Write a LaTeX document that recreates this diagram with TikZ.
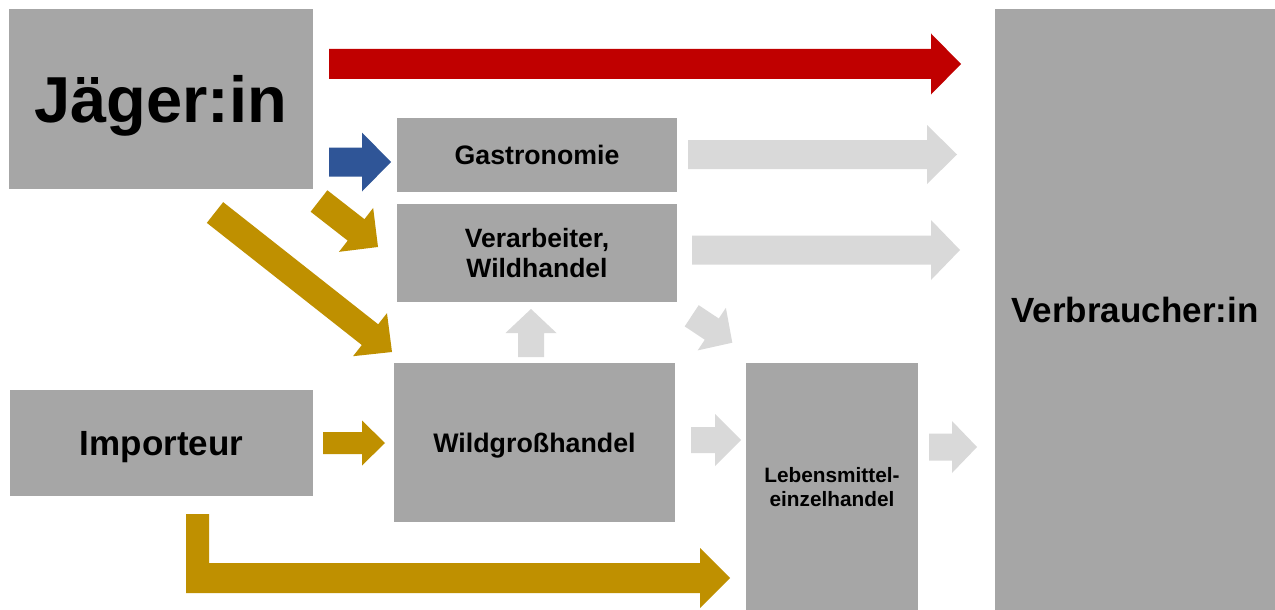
\documentclass[tikz,border=0pt]{standalone}
\usepackage{fontspec}
\setmainfont{Liberation Sans}
\usetikzlibrary{calc}
\definecolor{boxgray}{HTML}{A6A6A6}
\definecolor{lightarr}{HTML}{D9D9D9}
\definecolor{redarr}{HTML}{C00000}
\definecolor{bluearr}{HTML}{2F5597}
\definecolor{goldarr}{HTML}{BF9000}
% #1 style, #2 from, #3 to, #4 half shaft, #5 half head, #6 head length
\newcommand\blockarrow[6]{%
  \coordinate (ba-h) at ($(#3)!#6!(#2)$);
  \fill[#1] ($(#2)!#4!90:(#3)$) -- ($(ba-h)!#4!90:(#3)$) -- ($(ba-h)!#5!90:(#3)$) -- (#3)
    -- ($(ba-h)!#5!-90:(#3)$) -- ($(ba-h)!#4!-90:(#3)$) -- ($(#2)!#4!-90:(#3)$) -- cycle;
}
\tikzset{
  box/.style={fill=boxgray, draw=none, inner sep=0pt, align=center, text depth=0pt, font=\bfseries},
}
\begin{document}
\begin{tikzpicture}[x=1pt,y=-1pt]
\useasboundingbox[fill=white] (0,0) rectangle (1275,610);
% boxes
\node[box, minimum width=304pt, minimum height=180pt, font=\bfseries\fontsize{65}{70}\selectfont] (jaeger) at (161,99) {Jäger:in};
\node[box, minimum width=280pt, minimum height=74pt, font=\bfseries\fontsize{26.7}{30}\selectfont] (gastro) at (537,155) {Gastronomie};
\node[box, minimum width=280pt, minimum height=98pt, font=\bfseries\fontsize{26.5}{30.5}\selectfont] (verarb) at (537,253) {Verarbeiter,\\Wildhandel};
\node[box, minimum width=281pt, minimum height=159pt, font=\bfseries\fontsize{26.8}{30}\selectfont] (wild) at (534.5,442.5) {Wildgroßhandel};
\node[box, minimum width=303pt, minimum height=106pt, font=\bfseries\fontsize{35}{40}\selectfont] (import) at (161.5,443) {Importeur};
\node[box, minimum width=172pt, minimum height=247pt, font=\bfseries\fontsize{20.8}{24}\selectfont] (lebens) at (832,486.5) {Lebensmittel-\\einzelhandel};
\node[box, minimum width=280pt, minimum height=601pt, font=\bfseries\fontsize{35}{40}\selectfont] (verbr) at (1135,309.5) {Verbraucher:in};
% arrow end points
\coordinate (r1) at (329,64);     \coordinate (r2) at (961,64);
\coordinate (b1) at (329,162);    \coordinate (b2) at (391,162);
\coordinate (gs1) at (319,201);   \coordinate (gs2) at (378,247);
\coordinate (gl1) at (215,212.5); \coordinate (gl2) at (392,352);
\coordinate (gi1) at (323,443);   \coordinate (gi2) at (385,443);
\coordinate (u1) at (531,357);    \coordinate (u2) at (531,309);
\coordinate (d1) at (691.7,315.8);\coordinate (d2) at (732.3,342.7);
\coordinate (w1) at (691,440);    \coordinate (w2) at (741,440);
\coordinate (l1) at (929,447);    \coordinate (l2) at (977,447);
\coordinate (ga1) at (688,154.5); \coordinate (ga2) at (957,154.5);
\coordinate (va1) at (692,250);   \coordinate (va2) at (960,250);
% arrows
\blockarrow{redarr}{r1}{r2}{15pt}{30.5pt}{30pt}
\blockarrow{bluearr}{b1}{b2}{14.5pt}{29.5pt}{29pt}
\blockarrow{goldarr}{gs1}{gs2}{13.6pt}{27.8pt}{27.8pt}
\blockarrow{goldarr}{gl1}{gl2}{13.2pt}{27.4pt}{28pt}
\blockarrow{goldarr}{gi1}{gi2}{11pt}{22.5pt}{23pt}
\blockarrow{lightarr}{u1}{u2}{13pt}{25.5pt}{24pt}
\blockarrow{lightarr}{d1}{d2}{12.7pt}{25.5pt}{24.6pt}
\blockarrow{lightarr}{w1}{w2}{13pt}{26pt}{26pt}
\blockarrow{lightarr}{l1}{l2}{13.5pt}{26pt}{25pt}
\blockarrow{lightarr}{ga1}{ga2}{14.5pt}{29.5pt}{30pt}
\blockarrow{lightarr}{va1}{va2}{14.5pt}{30pt}{29pt}
% bent arrow Importeur -> Lebensmitteleinzelhandel
\coordinate (btip) at (730,578);
\fill[goldarr] (186,514) -- (209,514) -- (209,563) -- (700,563) -- (700,548) -- (btip)
  -- (700,608) -- (700,593) -- (186,593) -- cycle;
\end{tikzpicture}
\end{document}
